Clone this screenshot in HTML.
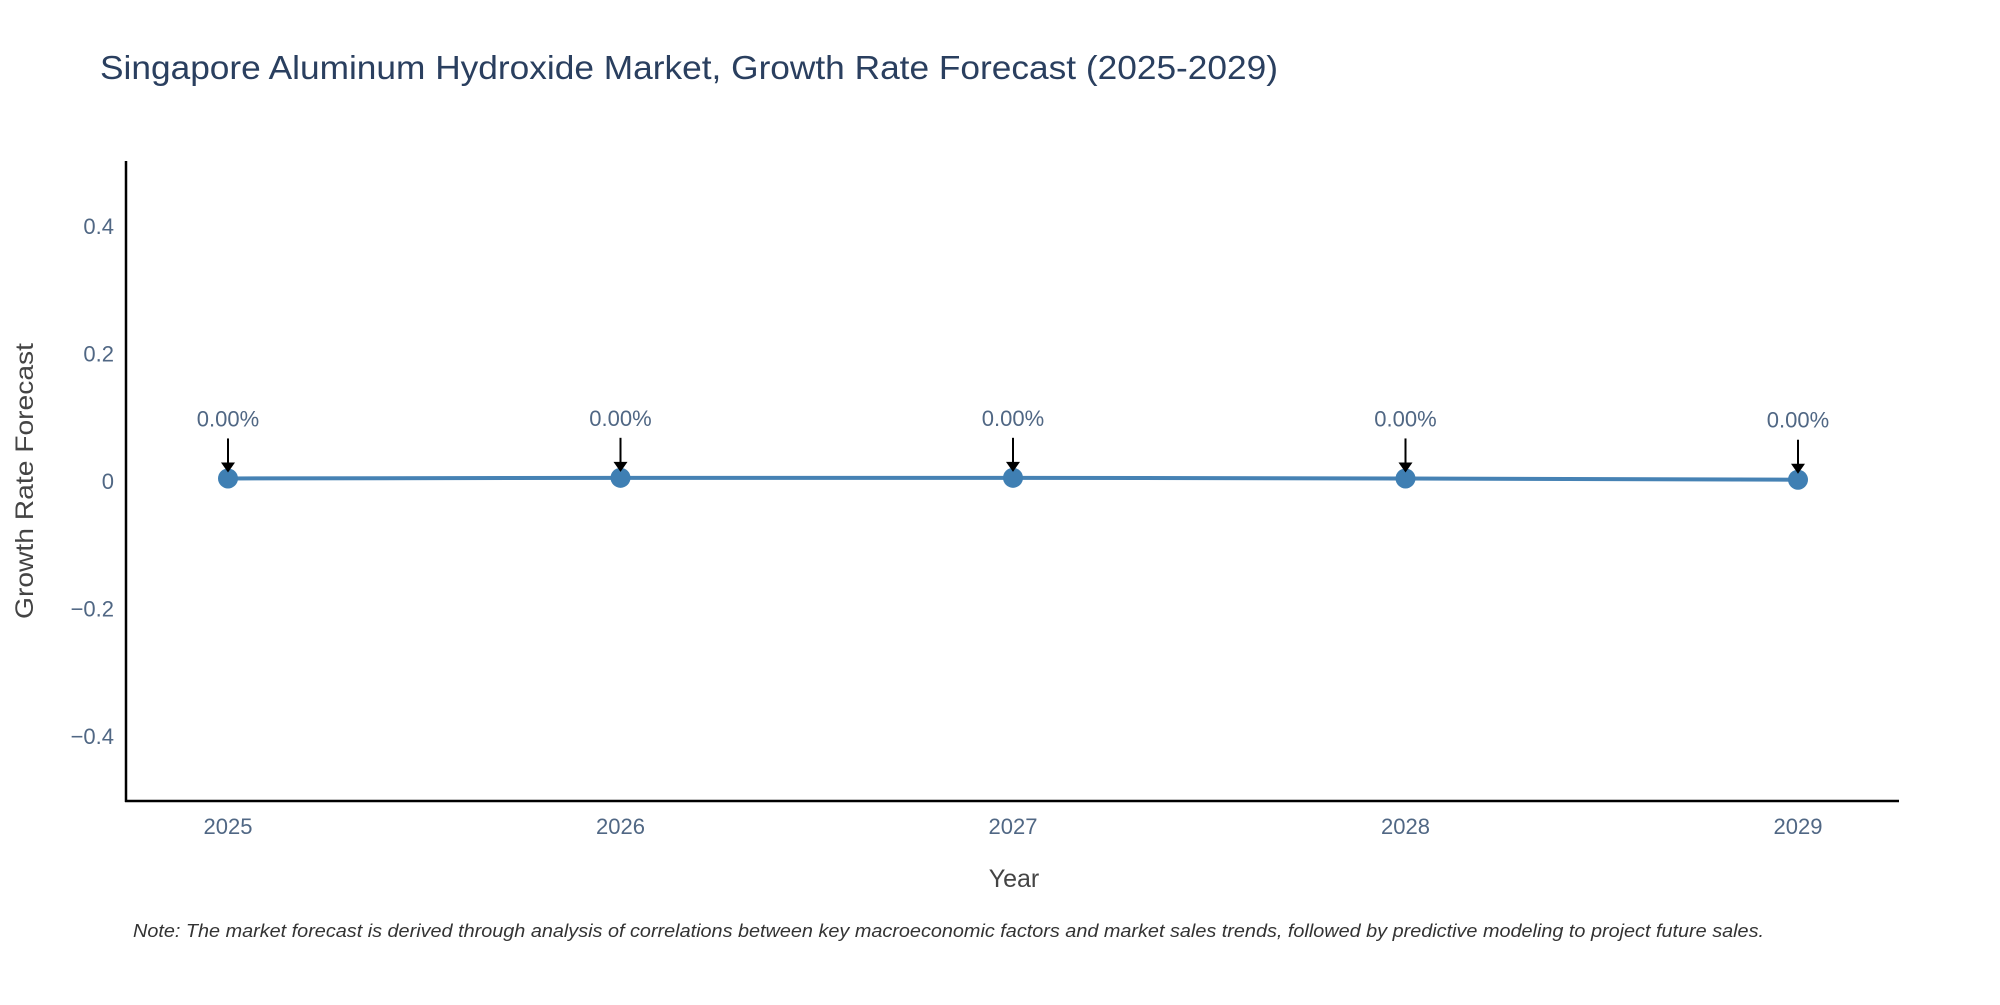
<!DOCTYPE html>
<html><head><meta charset="utf-8"><style>
body{margin:0;background:#fff;}
svg text{font-family:"Liberation Sans",sans-serif;}
</style></head><body>
<svg width="2000" height="1000" xmlns="http://www.w3.org/2000/svg">
<text x="100" y="79" font-size="33" fill="#2a3f5f" textLength="1178" lengthAdjust="spacingAndGlyphs">Singapore Aluminum Hydroxide Market, Growth Rate Forecast (2025-2029)</text>
<g id="yticks"></g><g id="xticks"></g>
<line x1="126" y1="161" x2="126" y2="802" stroke="#000" stroke-width="2.5"/>
<line x1="125" y1="801" x2="1899" y2="801" stroke="#000" stroke-width="2.5"/>
<path id="line" fill="none" stroke="#4682b4" stroke-width="4"/>
<g id="marks"></g>
<text x="1014" y="887" font-size="25" fill="#444" text-anchor="middle">Year</text>
<text transform="translate(33,481) rotate(-90)" font-size="25" fill="#444" text-anchor="middle" textLength="276" lengthAdjust="spacingAndGlyphs">Growth Rate Forecast</text>
<text x="133" y="937" font-size="18" font-style="italic" fill="#333" textLength="1631" lengthAdjust="spacingAndGlyphs">Note: The market forecast is derived through analysis of correlations between key macroeconomic factors and market sales trends, followed by predictive modeling to project future sales.</text>
</svg>
<script>
const years=[2025,2026,2027,2028,2029];
const values=[0.004,0.005,0.005,0.004,0.002];
const labels=["0.00%","0.00%","0.00%","0.00%","0.00%"];
const yTicks=[0.4,0.2,0,-0.2,-0.4];
const yTickLabels=["0.4","0.2","0","\u22120.2","\u22120.4"];
const NS="http://www.w3.org/2000/svg";
const xs=y=>228+(y-2025)*(1798-228)/4;
const ys=v=>481-v*(481-226)/0.4;
function mk(t,a,p){const e=document.createElementNS(NS,t);for(const k in a)e.setAttribute(k,a[k]);p.appendChild(e);return e;}
const yt=document.getElementById('yticks');
yTicks.forEach((v,i)=>{const t=mk('text',{x:114,y:ys(v)+8,'font-size':22,fill:'#506784','text-anchor':'end'},yt);t.textContent=yTickLabels[i];

});
const xt=document.getElementById('xticks');
years.forEach(y=>{const t=mk('text',{x:xs(y),y:834,'font-size':22,fill:'#506784','text-anchor':'middle'},xt);t.textContent=y;

});
document.getElementById('line').setAttribute('d',years.map((y,i)=>(i?'L':'M')+xs(y)+','+ys(values[i])).join(' '));
const m=document.getElementById('marks');
years.forEach((y,i)=>{const cx=xs(y),cy=ys(values[i]);
const c=mk('circle',{cx:cx,cy:cy,r:10,fill:'#3f7fb3'},m);


const l=mk('line',{x1:cx,y1:cy-40,x2:cx,y2:cy-14,stroke:'#000','stroke-width':2},m);


const a=mk('path',{d:`M${cx-7},${cy-16} L${cx+7},${cy-16} L${cx},${cy-6} Z`,fill:'#000'},m);


const t=mk('text',{x:cx,y:cy-52,'font-size':22,fill:'#506784','text-anchor':'middle'},m);t.textContent=labels[i];

});
</script>
</body></html>
